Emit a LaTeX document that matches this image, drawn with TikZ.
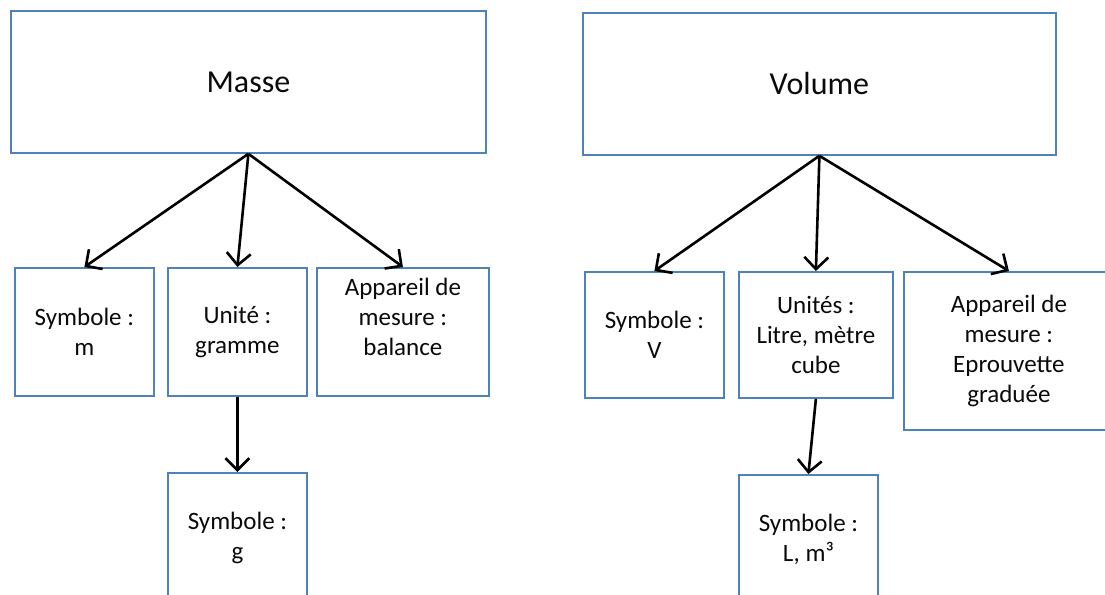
\documentclass[tikz,border=0pt]{standalone}
\usepackage{fontspec}
\setmainfont{Carlito}
\usetikzlibrary{arrows.meta}
\definecolor{boxblue}{RGB}{79,129,189}
\definecolor{inktext}{RGB}{10,10,10}
\begin{document}
\begin{tikzpicture}[x=1pt,y=-1pt,
  box/.style={draw=boxblue, line width=1.8pt, rectangle, inner sep=0pt,
    anchor=north west, align=center, text=inktext,
    font=\fontsize{25}{30}\selectfont},
  bigbox/.style={box, font=\fontsize{32}{38}\selectfont},
  conn/.style={line width=2.6pt, draw=black,
    -{Straight Barb[length=12pt,width=24pt,line width=2.6pt]}}]
\useasboundingbox (0,0) rectangle (1105,594);
\clip (0,0) rectangle (1105,594);
\fill[white] (0,0) rectangle (1105,594);
% Masse
\node[bigbox, minimum width=475, minimum height=142] (masse) at (10,10) {\raisebox{-2pt}{Masse}};
\node[box, minimum width=139, minimum height=128] (symm) at (14,267) {Symbole :\\m};
\node[box, minimum width=139, minimum height=128] (unite) at (167,267) {Unité :\\gramme};
\node[box, minimum width=172, minimum height=128] (appm) at (316,267) {Appareil de\\mesure :\\balance\\\mbox{}};
\node[box, minimum width=139, minimum height=130] (symg) at (167,472) {Symbole :\\g};
% Volume
\node[bigbox, minimum width=473, minimum height=142] (volume) at (582,12) {Volume};
\node[box, minimum width=139, minimum height=126] (symv) at (584,271) {Symbole :\\V};
\node[box, minimum width=154, minimum height=126] (unites) at (738,271) {Unités :\\Litre, mètre\\cube};
\node[box, minimum width=210, minimum height=158] (appv) at (903,271) {Appareil de\\mesure :\\Eprouvette\\graduée};
\node[box, minimum width=139, minimum height=130] (syml) at (738,474) {Symbole :\\L, m³};
% connectors
\draw[conn] (masse.south) -- (symm.north);
\draw[conn] (masse.south) -- (unite.north);
\draw[conn] (masse.south) -- (appm.north);
\draw[conn] (unite.south) -- (symg.north);
\draw[conn] (volume.south) -- (symv.north);
\draw[conn] (volume.south) -- (unites.north);
\draw[conn] (volume.south) -- (appv.north);
\draw[conn] (unites.south) -- (syml.north);
\end{tikzpicture}
\end{document}
